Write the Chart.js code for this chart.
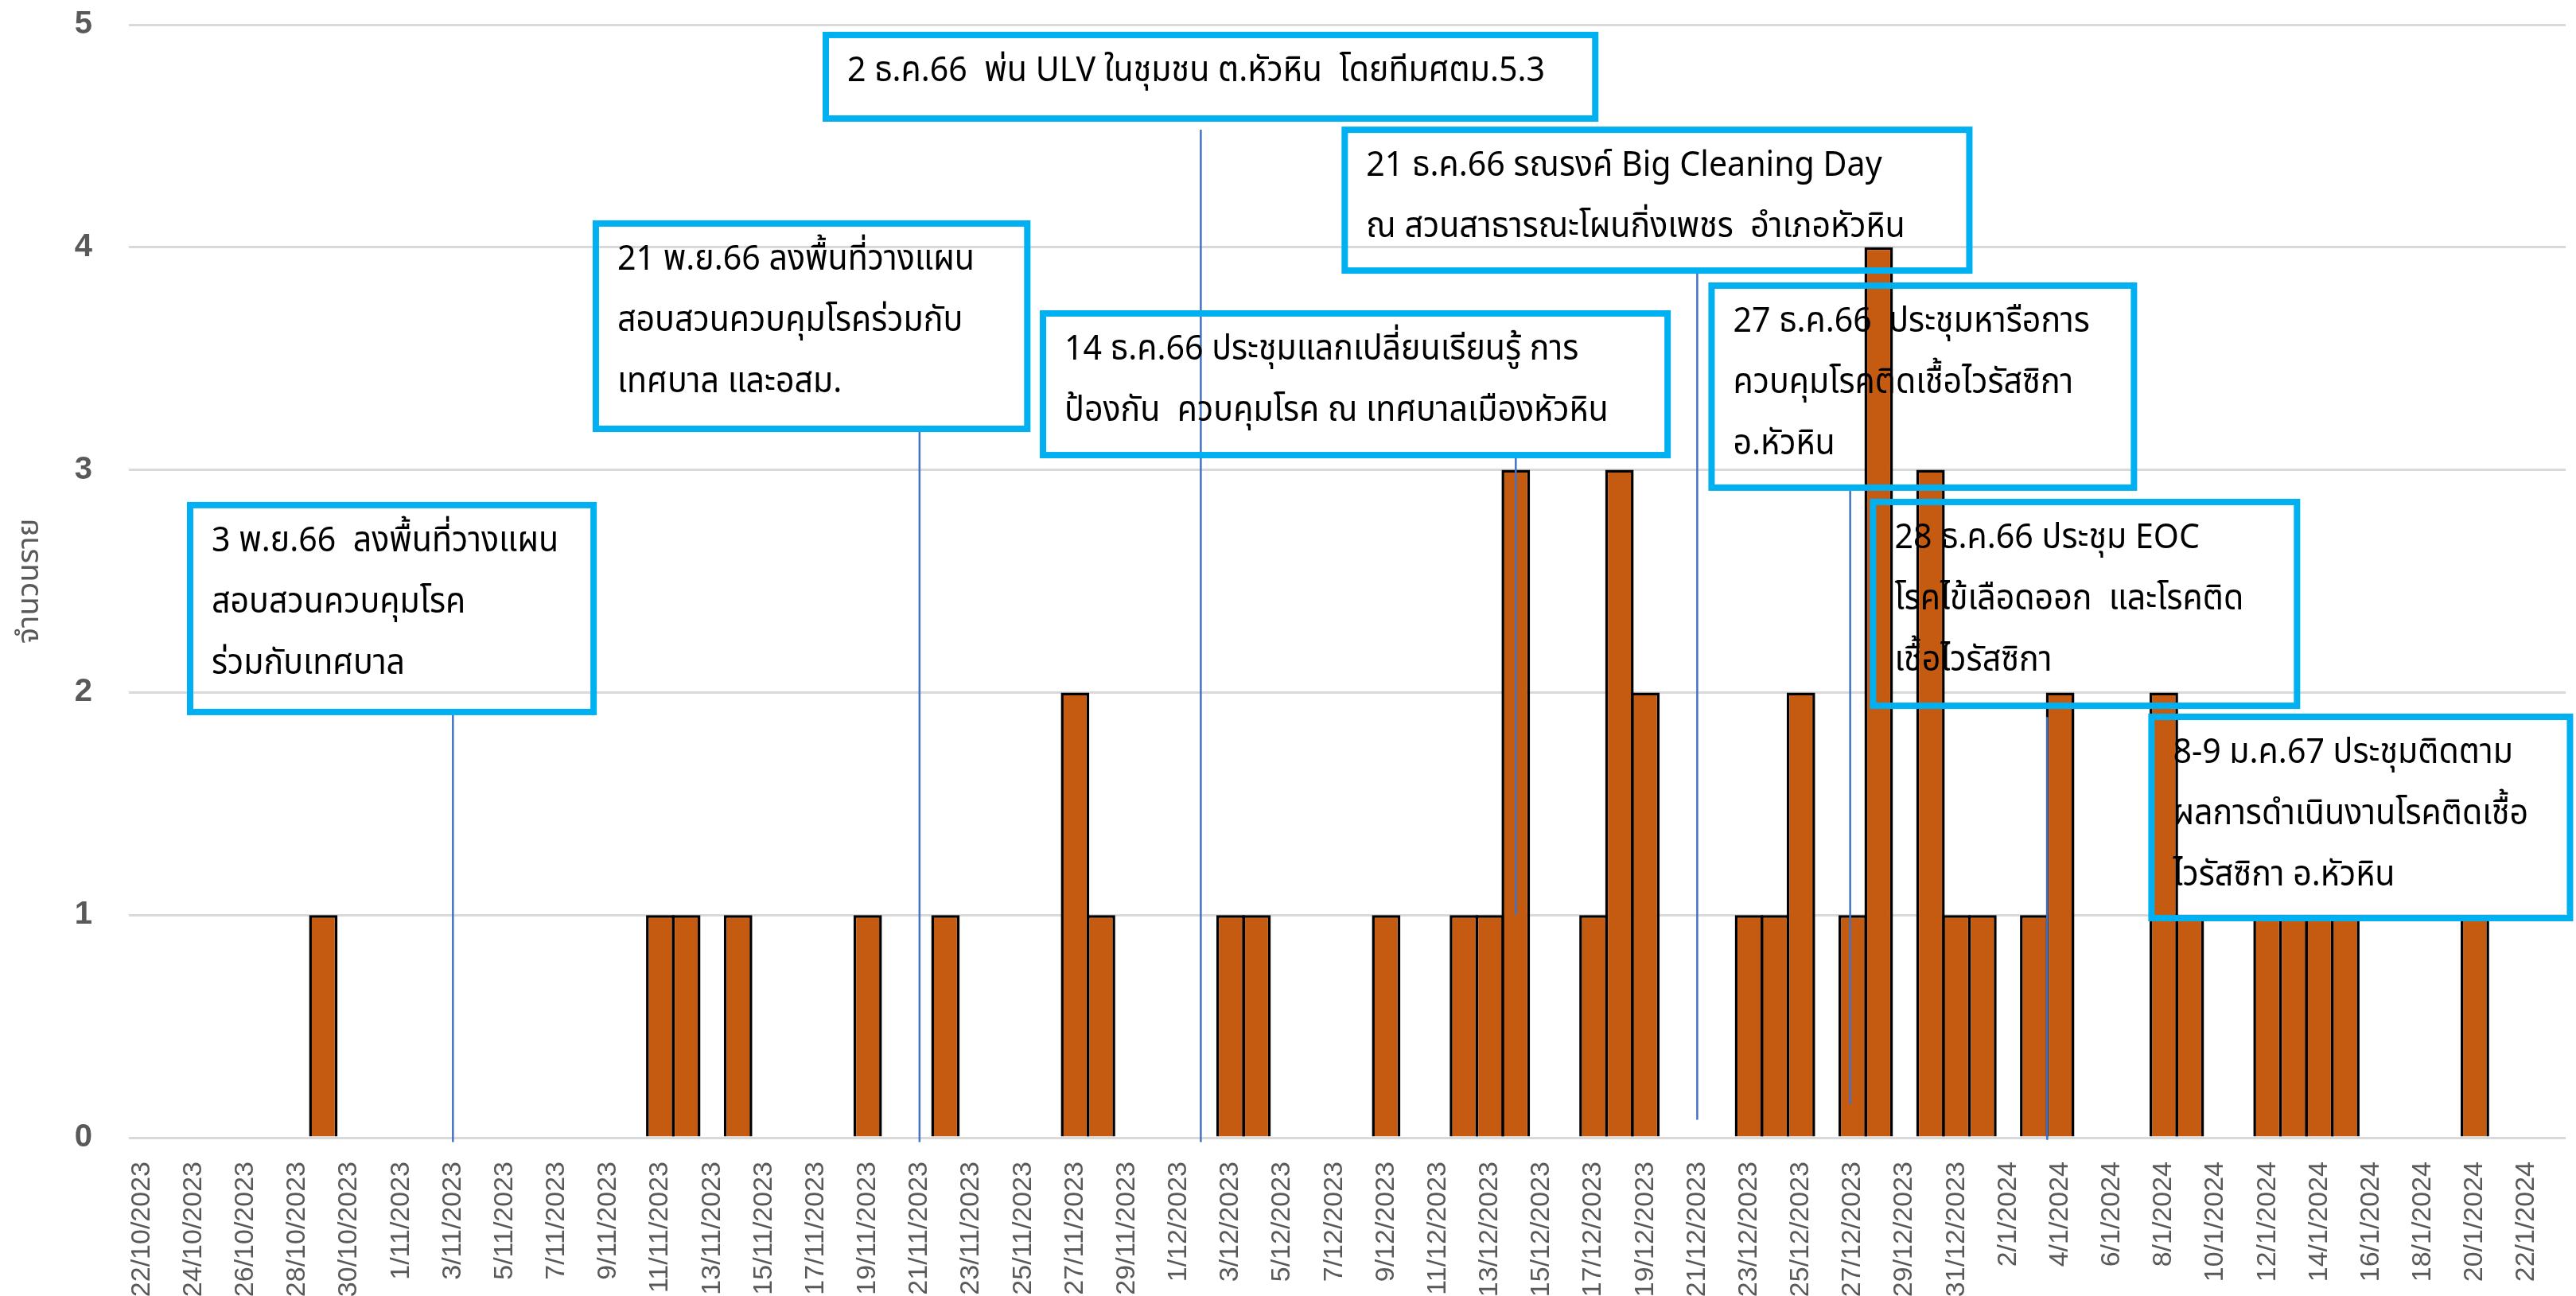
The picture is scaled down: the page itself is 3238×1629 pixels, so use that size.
<!DOCTYPE html>
<html>
<head>
<meta charset="utf-8">
<script src="https://cdn.jsdelivr.net/npm/chart.js@4.4.0/dist/chart.umd.min.js"></script>
<style>
  html, body { margin: 0; padding: 0; background: #fff; }
  canvas { display: block; }
</style>
</head>
<body>
<canvas id="chart" width="3238" height="1629"></canvas>
<script>
/* categories: one per day, 22/10/2023 - 23/1/2024 */
const octDates = ["22/10/2023","23/10/2023","24/10/2023","25/10/2023","26/10/2023","27/10/2023","28/10/2023","29/10/2023","30/10/2023","31/10/2023"];
const novDates = ["1/11/2023","2/11/2023","3/11/2023","4/11/2023","5/11/2023","6/11/2023","7/11/2023","8/11/2023","9/11/2023","10/11/2023",
  "11/11/2023","12/11/2023","13/11/2023","14/11/2023","15/11/2023","16/11/2023","17/11/2023","18/11/2023","19/11/2023","20/11/2023",
  "21/11/2023","22/11/2023","23/11/2023","24/11/2023","25/11/2023","26/11/2023","27/11/2023","28/11/2023","29/11/2023","30/11/2023"];
const decDates = ["1/12/2023","2/12/2023","3/12/2023","4/12/2023","5/12/2023","6/12/2023","7/12/2023","8/12/2023","9/12/2023","10/12/2023",
  "11/12/2023","12/12/2023","13/12/2023","14/12/2023","15/12/2023","16/12/2023","17/12/2023","18/12/2023","19/12/2023","20/12/2023",
  "21/12/2023","22/12/2023","23/12/2023","24/12/2023","25/12/2023","26/12/2023","27/12/2023","28/12/2023","29/12/2023","30/12/2023","31/12/2023"];
const janDates = ["1/1/2024","2/1/2024","3/1/2024","4/1/2024","5/1/2024","6/1/2024","7/1/2024","8/1/2024","9/1/2024","10/1/2024",
  "11/1/2024","12/1/2024","13/1/2024","14/1/2024","15/1/2024","16/1/2024","17/1/2024","18/1/2024","19/1/2024","20/1/2024",
  "21/1/2024","22/1/2024","23/1/2024"];

/* cases per day (จำนวนราย) */
const octCases = [0,0,0,0,0,0,0,1,0,0];
const novCases = [0,0,0,0,0,0,0,0,0,0, 1,1,0,1,0,0,0,0,1,0, 0,1,0,0,0,0,2,1,0,0];
const decCases = [0,0,1,1,0,0,0,0,1,0, 0,1,1,3,0,0,1,3,2,0, 0,0,1,1,2,0,1,4,0,3, 1];
const janCases = [1,0,1,2,0,0,0,2,1,0, 0,1,1,1,1,0,0,0,0,1, 0,0,0];

const yTicks = [0, 1, 2, 3, 4, 5];

const dates = [...octDates, ...novDates, ...decDates, ...janDates];
const cases = [...octCases, ...novCases, ...decCases, ...janCases];

/* event notes: box edges in category index / axis value units */
const notes = [
  { from: 1.74, to: 17.55, top: 2.856, bottom: 1.898,
    lines: ["3 พ.ย.66  ลงพื้นที่วางแผน", "สอบสวนควบคุมโรค", "ร่วมกับเทศบาล"] },
  { from: 17.39, to: 34.28, top: 4.121, bottom: 3.170,
    lines: ["21 พ.ย.66 ลงพื้นที่วางแผน", "สอบสวนควบคุมโรคร่วมกับ", "เทศบาล และอสม."] },
  { from: 26.26, to: 56.19, top: 4.968, bottom: 4.564,
    lines: ["2 ธ.ค.66  พ่น ULV ในชุมชน ต.หัวหิน  โดยทีมศตม.5.3"] },
  { from: 34.64, to: 58.98, top: 3.717, bottom: 3.052,
    lines: ["14 ธ.ค.66 ประชุมแลกเปลี่ยนเรียนรู้ การ", "ป้องกัน  ควบคุมโรค ณ เทศบาลเมืองหัวหิน"] },
  { from: 46.28, to: 70.62, top: 4.542, bottom: 3.881,
    lines: ["21 ธ.ค.66 รณรงค์ Big Cleaning Day", "ณ สวนสาธารณะโผนกิ่งเพชร  อำเภอหัวหิน"] },
  { from: 60.43, to: 76.97, top: 3.842, bottom: 2.906,
    lines: ["27 ธ.ค.66  ประชุมหารือการ", "ควบคุมโรคติดเชื้อไวรัสซิกา", "อ.หัวหิน"] },
  { from: 66.66, to: 83.26, top: 2.870, bottom: 1.926,
    lines: ["28 ธ.ค.66 ประชุม EOC", "โรคไข้เลือดออก  และโรคติด", "เชื้อไวรัสซิกา"] },
  { from: 77.40, to: 93.79, top: 1.905, bottom: 0.972,
    lines: ["8-9 ม.ค.67 ประชุมติดตาม", "ผลการดำเนินงานโรคติดเชื้อ", "ไวรัสซิกา อ.หัวหิน"] }
];

/* leader lines from the boxes down to the dates */
const leaders = [
  { at: 12, from: 1.898, to: -0.02 },
  { at: 30, from: 3.170, to: -0.02 },
  { at: 40.85, from: 4.528, to: -0.02 },
  { at: 53, from: 3.052, to: 1.0 },
  { at: 60, from: 3.881, to: 0.08 },
  { at: 65.9, from: 2.906, to: 0.15 },
  { at: 73.5, from: 1.89, to: -0.01 }
];

const THAI = "'Noto Sans Thai', 'Noto Sans', 'DejaVu Sans', sans-serif";

const notesPlugin = {
  id: 'notes',
  afterDatasetsDraw(chart) {
    const ctx = chart.ctx;
    const xs = chart.scales.x, ys = chart.scales.y;
    const step = xs.getPixelForValue(1) - xs.getPixelForValue(0);
    const px = i => xs.getPixelForValue(0) + i * step;

    ctx.save();
    ctx.strokeStyle = '#4472C4';
    ctx.lineWidth = 2.5;
    leaders.forEach(l => {
      ctx.beginPath();
      ctx.moveTo(px(l.at), ys.getPixelForValue(l.from));
      ctx.lineTo(px(l.at), ys.getPixelForValue(l.to));
      ctx.stroke();
    });

    ctx.font = '44px ' + THAI;
    // reference text is drawn in a narrow face, squeeze to match its width
    const squeeze = 877 / ctx.measureText(notes[2].lines[0]).width;

    notes.forEach(n => {
      const x0 = px(n.from), x1 = px(n.to);
      const y0 = ys.getPixelForValue(n.top), y1 = ys.getPixelForValue(n.bottom);
      ctx.strokeStyle = '#00B0F0';
      ctx.lineWidth = 8;
      ctx.strokeRect(x0 + 4, y0 + 4, x1 - x0 - 8, y1 - y0 - 8);

      ctx.fillStyle = '#000';
      ctx.textBaseline = 'middle';
      ctx.textAlign = 'left';
      n.lines.forEach((t, k) => {
        ctx.save();
        ctx.translate(x0 + 31, y0 + 53 + k * 77);
        ctx.scale(squeeze, 1);
        ctx.fillText(t, 0, 0);
        ctx.restore();
      });
    });
    ctx.restore();
  }
};

new Chart(document.getElementById('chart'), {
  type: 'bar',
  data: {
    labels: dates,
    datasets: [{
      data: cases,
      backgroundColor: '#C55A11',
      borderColor: '#000',
      borderWidth: 3.5,
      barPercentage: 1.1,
      categoryPercentage: 1
    }]
  },
  options: {
    responsive: false,
    animation: false,
    devicePixelRatio: 1,
    layout: { padding: { top: 31, right: 13, left: 0, bottom: 0 } },
    plugins: {
      legend: { display: false },
      tooltip: { enabled: false }
    },
    scales: {
      x: {
        grid: { display: false },
        border: { display: false },
        ticks: {
          autoSkip: false,
          minRotation: 90,
          maxRotation: 90,
          padding: 22,
          color: '#595959',
          font: { family: "'Liberation Sans', Arial, sans-serif", size: 34 },
          callback: (v, i) => (i % 2 === 0 ? dates[i] : '')
        },
        afterFit: s => { s.height = 199; s.paddingLeft = 0; s.paddingRight = 0; }
      },
      y: {
        min: yTicks[0],
        max: yTicks[yTicks.length - 1],
        grid: { color: '#d9d9d9', lineWidth: 3, drawTicks: false },
        border: { display: false },
        ticks: {
          stepSize: 1,
          padding: 46,
          color: '#595959',
          font: { family: "'Liberation Sans', Arial, sans-serif", size: 40, weight: 'bold' }
        },
        title: {
          display: true,
          text: 'จำนวนราย',
          color: '#595959',
          font: { family: THAI, size: 38 },
          padding: { top: 18, bottom: 0 }
        },
        afterFit: s => { s.width = 162; s.paddingTop = 0; s.paddingBottom = 0; }
      }
    }
  },
  plugins: [notesPlugin]
});
</script>
</body>
</html>
